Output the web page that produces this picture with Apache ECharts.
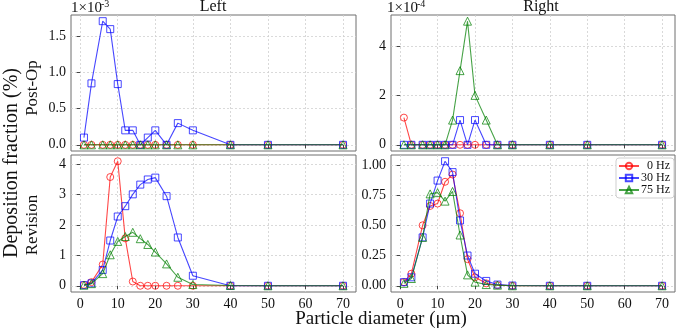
<!DOCTYPE html>
<html>
<head>
<meta charset="utf-8">
<script src="https://cdn.jsdelivr.net/npm/echarts@6/dist/echarts.min.js"></script>
<style>html,body{margin:0;padding:0;background:#fff;}#c{width:677px;height:330px;}</style>
</head>
<body>
<div id="c"></div>
<script>
const diameters = [1, 3, 6, 8, 10, 12, 14, 16, 18, 20, 23, 26, 30, 40, 50, 70];

// Post-Op Left (x1e-3)
const postLeft0  = [0,0,0,0,0,0,0,0,0,0,0,0,0,0,0,0];
const postLeft30 = [0.1,0.85,1.71,1.6,0.84,0.2,0.2,0,0.1,0.2,0,0.3,0.2,0,0,0];
const postLeft75 = [0,0,0,0,0,0,0,0,0,0,0,0,0,0,0,0];

// Post-Op Right (x1e-4)
const postRight0  = [1.1,0,0,0,0,0,0,0,0,0,0,0,0,0,0,0];
const postRight30 = [0,0,0,0,0,0,0,1,0,1,0,0,0,0,0,0];
const postRight75 = [0,0,0,0,0,0,1,3,5,2,1,0,0,0,0,0];

// Revision Left
const revLeft0  = [0.03,0.12,0.7,3.58,4.1,1.56,0.14,0,0,0,0,0,0,0,0,0];
const revLeft30 = [0.02,0.08,0.52,1.49,2.28,2.62,3.01,3.33,3.5,3.56,2.95,1.59,0.33,0,0,0];
const revLeft75 = [0.02,0.07,0.4,1.02,1.46,1.62,1.76,1.55,1.36,1.11,0.72,0.28,0.04,0.01,0,0];

// Revision Right
const revRight0  = [0.03,0.1,0.5,0.66,0.68,0.86,0.92,0.6,0.22,0.07,0.02,0.005,0,0,0,0];
const revRight30 = [0.03,0.07,0.4,0.68,0.87,1.03,0.94,0.54,0.25,0.1,0.04,0.01,0.002,0,0,0];
const revRight75 = [0.02,0.06,0.4,0.76,0.77,0.7,0.78,0.42,0.09,0.03,0.01,0.005,0,0,0,0];

const seriesNames = ['\u20070 Hz', '30 Hz', '75 Hz'];
const xTicks = [0, 10, 20, 30, 40, 50, 60, 70];
const yTicksTL = [0, 0.5, 1.0, 1.5];
const yTicksTR = [0, 2, 4];
const yTicksBL = [0, 1, 2, 3, 4];
const yTicksBR = [0, 0.25, 0.5, 0.75, 1.0];

const FONT = 'Liberation Serif';
const colors = ['rgba(255,0,0,0.72)', 'rgba(0,0,255,0.72)', 'rgba(0,128,0,0.72)'];
const symbols = ['circle', 'rect', 'triangle'];
const symSizes = [7, 7, 8];

function pad(minV, maxV) { const d = (maxV - minV) * 0.05; return [minV - d, maxV + d]; }
const xr = pad(1, 70);

const grids = [
  {left: 71, top: 15, width: 285, height: 136},
  {left: 391, top: 15, width: 284, height: 136},
  {left: 71, top: 155, width: 285, height: 137},
  {left: 391, top: 155, width: 284, height: 137}
].map(g => Object.assign({show: true, borderColor: '#6e6e6e', borderWidth: 1, backgroundColor: 'transparent'}, g));

const splitLine = {show: true, lineStyle: {color: '#d0d0d0', type: [2, 2], width: 0.8}};

function xAxis(idx, showLabels) {
  return {
    type: 'value', gridIndex: idx, min: xr[0], max: xr[1],
    axisLine: {show: false},
    axisTick: {show: true, length: 3.5, customValues: xTicks, lineStyle: {color: '#444'}},
    axisLabel: {show: showLabels, customValues: xTicks, fontFamily: FONT, fontSize: 14, color: '#111', margin: 5},
    splitLine: splitLine
  };
}
function yAxis(idx, ticks, range, fmt) {
  return {
    type: 'value', gridIndex: idx, min: range[0], max: range[1],
    axisLine: {show: false},
    axisTick: {show: true, length: 3.5, customValues: ticks, lineStyle: {color: '#444'}},
    axisLabel: {customValues: ticks, fontFamily: FONT, fontSize: 14, color: '#111', margin: 5, formatter: fmt},
    splitLine: splitLine
  };
}

const panels = [
  [postLeft0, postLeft30, postLeft75],
  [postRight0, postRight30, postRight75],
  [revLeft0, revLeft30, revLeft75],
  [revRight0, revRight30, revRight75]
];

const series = [];
panels.forEach((arrs, p) => {
  arrs.forEach((vals, s) => {
    series.push({
      name: seriesNames[s], type: 'line', xAxisIndex: p, yAxisIndex: p,
      data: diameters.map((d, i) => [d, vals[i]]),
      symbol: symbols[s], symbolSize: symSizes[s],
      lineStyle: {color: colors[s], width: 1.1},
      itemStyle: {color: 'rgba(255,255,255,0)', borderColor: colors[s], borderWidth: 1},
      emphasis: {disabled: true}, animation: false, z: 2 + s
    });
  });
});

function txt(text, x, y, size, extra) {
  return Object.assign({type: 'text', x: x, y: y, style: {text: text, fontFamily: FONT, fontSize: size, fill: '#111', align: 'center', verticalAlign: 'middle'}}, extra || {});
}
function leftTxt(text, x, y, size) {
  return {type: 'text', x: x, y: y, style: {text: text, fontFamily: FONT, fontSize: size, fill: '#111', align: 'left', verticalAlign: 'middle'}};
}

const chart = echarts.init(document.getElementById('c'), null, {renderer: 'canvas'});
chart.setOption({
  animation: false,
  grid: grids,
  xAxis: [xAxis(0, false), xAxis(1, false), xAxis(2, true), xAxis(3, true)],
  yAxis: [
    yAxis(0, yTicksTL, pad(0, 1.71), v => v.toFixed(1)),
    yAxis(1, yTicksTR, pad(0, 5), v => v.toFixed(0)),
    yAxis(2, yTicksBL, pad(0, 4.1), v => v.toFixed(0)),
    yAxis(3, yTicksBR, pad(0, 1.03), v => v.toFixed(2))
  ],
  legend: {
    data: seriesNames, orient: 'vertical', right: 3, top: 158,
    backgroundColor: '#fff', borderColor: '#cfcfcf', borderWidth: 1, borderRadius: 3,
    padding: [2, 4, 2, 2], itemGap: 0, itemWidth: 20, itemHeight: 8,
    textStyle: {fontFamily: FONT, fontSize: 12, color: '#111', padding: [0, 0, 0, -3]}, selectedMode: false
  },
  graphic: [
    txt('Left', 213, 7, 16),
    txt('Right', 541, 7, 16),
    leftTxt('1×10', 71, 8, 15),
    leftTxt('-3', 101, 4, 10),
    leftTxt('1×10', 387, 8, 15),
    leftTxt('-4', 417, 4, 10),
    txt('Deposition fraction (%)', 12, 163, 20, {rotation: Math.PI / 2}),
    txt('Post-Op', 33, 88, 17, {rotation: Math.PI / 2}),
    txt('Revision', 33, 225, 17, {rotation: Math.PI / 2}),
    txt('Particle diameter (μm)', 381, 319, 19)
  ],
  series: series
});
</script>
</body>
</html>
